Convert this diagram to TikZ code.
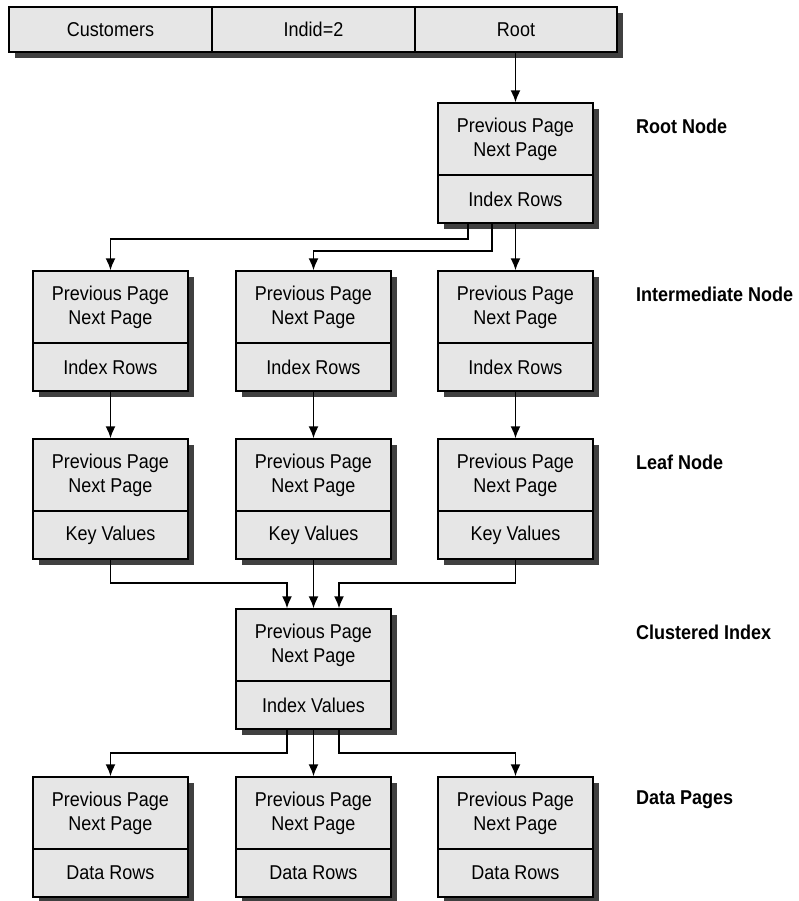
\documentclass[tikz,border=0pt]{standalone}
\usepackage{fontspec}
\setmainfont[FakeStretch=0.9]{Liberation Sans}
\usetikzlibrary{shadows,arrows.meta,calc}
\definecolor{boxgray}{RGB}{230,230,230}
\definecolor{shadowgray}{RGB}{64,64,64}
\tikzset{
  sh/.style={drop shadow={shadow xshift=6pt, shadow yshift=-6pt, fill=shadowgray, opacity=1}},
  txt/.style={font=\fontsize{20}{24}\selectfont},
  cell/.style={draw, line width=1.3pt, fill=boxgray, sh, minimum width=203pt, minimum height=45pt, inner sep=0pt, txt},
  pgtop/.style={draw, line width=1.3pt, fill=boxgray, sh, minimum width=155pt, minimum height=72pt, inner sep=0pt, align=center, txt},
  pgbot/.style={draw, line width=1.3pt, fill=boxgray, sh, minimum width=155pt, minimum height=48pt, inner sep=0pt, align=center, txt},
  lvl/.style={anchor=west, inner sep=0pt, font=\fontsize{20}{24}\selectfont\bfseries},
  arr/.style={line width=1.8pt, -{Latex[length=12pt,width=10pt]}}
}
\begin{document}
\begin{tikzpicture}[x=1pt,y=-1pt]
\useasboundingbox (0,0) rectangle (799,901);
% top bar
\node[cell] (c1) at (110.5,29.5) {Customers};
\node[cell] (c2) at (313.5,29.5) {Indid=2};
\node[cell, minimum width=202pt] (c3) at (516,29.5) {Root};
% pages
\newcommand{\pg}[4]{%
  \node[pgtop] (#1T) at (#2,#3+36) {Previous Page\\Next Page};
  \node[pgbot] (#1B) at (#2,#3+96) {#4};
}
\pg{r}{515.5}{103}{Index Rows}
\pg{ia}{110.5}{271}{Index Rows}
\pg{ib}{313.5}{271}{Index Rows}
\pg{ic}{515.5}{271}{Index Rows}
\pg{la}{110.5}{439}{Key Values}
\pg{lb}{313.5}{439}{Key Values}
\pg{lc}{515.5}{439}{Key Values}
\pg{c}{313.5}{609}{Index Values}
\pg{da}{110.5}{777}{Data Rows}
\pg{db}{313.5}{777}{Data Rows}
\pg{dc}{515.5}{777}{Data Rows}
% level labels
\node[lvl] (t1) at (636,126) {Root Node};
\node[lvl] (t2) at (636,294) {Intermediate Node};
\node[lvl] (t3) at (636,462) {Leaf Node};
\node[lvl] (t4) at (636,632) {Clustered Index};
\node[lvl] (t5) at (636,800) {Data Pages};
% connectors
\draw[arr] (c3.south -| rT.north) -- (rT.north);
\draw[arr] ($(rB.south)+(-47.5,0)$) -- ++(0,15) -| (iaT.north);
\draw[arr] ($(rB.south)+(-23.5,0)$) -- ++(0,27) -| (ibT.north);
\draw[arr] (rB.south) -- (icT.north);
\draw[arr] (iaB.south) -- (laT.north);
\draw[arr] (ibB.south) -- (lbT.north);
\draw[arr] (icB.south) -- (lcT.north);
\draw[arr] (laB.south) -- ++(0,23) -| ($(cT.north)+(-26.5,0)$);
\draw[arr] (lbB.south) -- (cT.north);
\draw[arr] (lcB.south) -- ++(0,23) -| ($(cT.north)+(25.5,0)$);
\draw[arr] ($(cB.south)+(-26.5,0)$) -- ++(0,23) -| (daT.north);
\draw[arr] (cB.south) -- (dbT.north);
\draw[arr] ($(cB.south)+(25.5,0)$) -- ++(0,23) -| (dcT.north);
\end{tikzpicture}
\end{document}
